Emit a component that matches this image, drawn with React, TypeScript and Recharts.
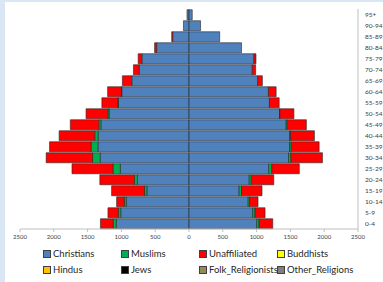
import React from 'react';
import { BarChart, Bar, XAxis, YAxis } from 'recharts';

const ages = ['95+', '90-94', '85-89', '80-84', '75-79', '70-74', '65-69', '60-64', '55-59', '50-54', '45-49', '40-44', '35-39', '30-34', '25-29', '20-24', '15-19', '10-14', '5-9', '0-4'];

const religions = ['Christians', 'Muslims', 'Unaffiliated', 'Buddhists', 'Hindus', 'Jews', 'Folk_Religionists', 'Other_Religions'];
const colors = ['#4F81BD', '#00B050', '#FF0000', '#FFFF00', '#FFC000', '#000000', '#948A54', '#7F7F7F'];

const maleChristians = [30, 82, 241, 479, 697, 737, 846, 995, 1046, 1180, 1304, 1344, 1348, 1314, 1016, 763, 623, 927, 1010, 1076];
const maleMuslims = [0, 0, 0, 0, 0, 0, 0, 5, 5, 20, 30, 50, 100, 113, 109, 45, 35, 30, 35, 45];
const maleUnaffiliated = [0, 0, 15, 30, 55, 85, 140, 204, 238, 323, 422, 527, 615, 686, 606, 511, 487, 114, 154, 189];

const femaleChristians = [48, 171, 454, 777, 961, 936, 1016, 1175, 1190, 1339, 1438, 1487, 1487, 1472, 1180, 891, 742, 876, 941, 1001];
const femaleMuslims = [0, 0, 0, 0, 0, 0, 0, 0, 0, 5, 15, 15, 25, 35, 45, 30, 35, 20, 35, 35];
const femaleUnaffiliated = [0, 0, 0, 0, 30, 50, 69, 114, 144, 208, 283, 353, 413, 467, 407, 333, 303, 125, 149, 203];

const zeros = ages.map(() => 0);
const maleSeries: Record<string, number[]> = {
  Christians: maleChristians,
  Muslims: maleMuslims,
  Unaffiliated: maleUnaffiliated,
  Buddhists: zeros,
  Hindus: zeros,
  Jews: zeros,
  Folk_Religionists: zeros,
  Other_Religions: zeros,
};
const femaleSeries: Record<string, number[]> = {
  Christians: femaleChristians,
  Muslims: femaleMuslims,
  Unaffiliated: femaleUnaffiliated,
  Buddhists: zeros,
  Hindus: zeros,
  Jews: zeros,
  Folk_Religionists: zeros,
  Other_Religions: zeros,
};

const xTicks = [-2500, -2000, -1500, -1000, -500, 0, 500, 1000, 1500, 2000, 2500];

const data = ages.map((age, i) => {
  const row: Record<string, string | number> = { age };
  religions.forEach((r) => {
    row['m_' + r] = -maleSeries[r][i];
    row['f_' + r] = femaleSeries[r][i];
  });
  return row;
});

const font = 'Lato, "Open Sans", sans-serif';

export default function App() {
  return (
    <div style={{ position: 'fixed', left: 0, top: 0, width: 383, height: 282, background: '#ffffff', overflow: 'hidden', fontFamily: font }}>
      <div style={{ position: 'absolute', left: 0, top: 0, width: 383, height: 2, background: '#d9e7f4' }} />
      <div style={{ position: 'absolute', left: 0, top: 0, width: 5, height: 282, background: '#d9e7f4' }} />
      <div style={{ position: 'absolute', left: 0, top: 0 }}>
        <BarChart
          width={383}
          height={242}
          data={data}
          layout="vertical"
          stackOffset="sign"
          barCategoryGap={0.75}
          margin={{ top: 9, right: 0, bottom: 0, left: 20 }}
        >
          <XAxis
            type="number"
            domain={[-2500, 2500]}
            ticks={xTicks}
            tickFormatter={(v: number) => String(Math.abs(v))}
            tick={{ fontSize: 6, fill: '#404040', fontFamily: font }}
            axisLine={{ stroke: '#bfbfbf' }}
            tickLine={{ stroke: '#bfbfbf' }}
            tickSize={3}
            tickMargin={3}
            height={13}
            allowDataOverflow
          />
          <YAxis
            type="category"
            dataKey="age"
            orientation="right"
            width={25}
            tick={{ fontSize: 6.5, fill: '#404040', fontFamily: font, textAnchor: 'start' }}
            axisLine={{ stroke: '#bfbfbf' }}
            tickLine={false}
            tickSize={4}
            tickMargin={3}
            interval={0}
          />
          {religions.map((r, k) => (
            <Bar key={'m' + r} dataKey={'m_' + r} stackId="a" fill={colors[k]} stroke="#262626" strokeWidth={0.6} isAnimationActive={false} />
          ))}
          {religions.map((r, k) => (
            <Bar key={'f' + r} dataKey={'f_' + r} stackId="a" fill={colors[k]} stroke="#262626" strokeWidth={0.6} isAnimationActive={false} />
          ))}
        </BarChart>
      </div>
      {religions.map((r, k) => {
        const col = k % 4;
        const rowIdx = Math.floor(k / 4);
        const left = [43, 121, 199, 277][col];
        const top = [254, 270][rowIdx];
        return (
          <div key={r} style={{ position: 'absolute', left, top: top - 6, height: 12, display: 'flex', alignItems: 'center', whiteSpace: 'nowrap' }}>
            <div style={{ width: 6, height: 6, background: colors[k], border: '0.8px solid #404040', marginRight: 2 }} />
            <span style={{ fontSize: 9.5, color: '#262626', lineHeight: '12px' }}>{r}</span>
          </div>
        );
      })}
    </div>
  );
}
